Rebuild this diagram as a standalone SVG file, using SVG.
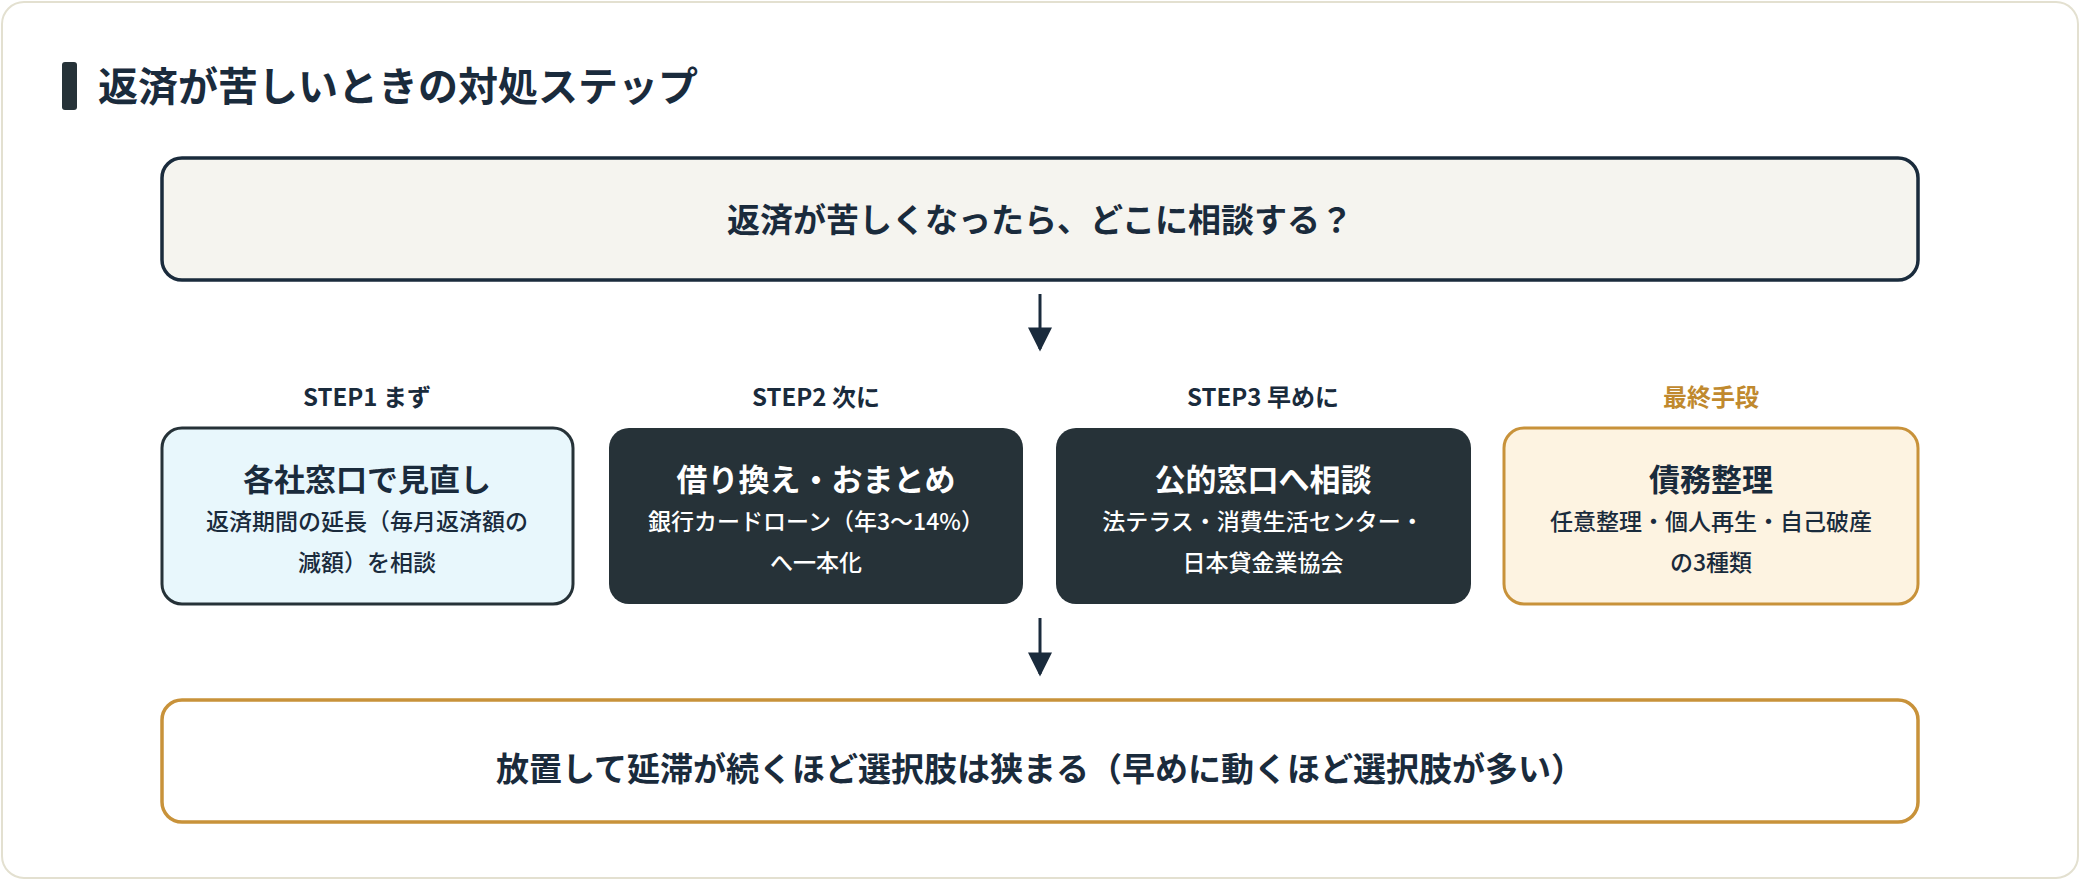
<svg xmlns="http://www.w3.org/2000/svg" width="2080" height="880" viewBox="0 0 2080 880">
<style>
text{font-family:"Noto Sans CJK JP","Noto Sans",sans-serif;text-anchor:middle;font-weight:700}
.lbl{font-size:24px;fill:#1a2b3c}
.ttl{font-size:31px}
.sub{font-size:23px;font-weight:500}
.dk{fill:#ffffff}
.lt{fill:#1a2b3c}
</style>
<defs>
<marker id="ah" viewBox="0 0 10 10" refX="9" refY="5" markerWidth="28" markerHeight="24" markerUnits="userSpaceOnUse" orient="auto"><path d="M0,0 L10,5 L0,10 z" fill="#1a2b3c"/></marker>
</defs>
<rect x="2" y="2" width="2076" height="876" rx="22" fill="#ffffff" stroke="#e3e0d0" stroke-width="2"/>
<rect x="62" y="62" width="15" height="48" rx="3" fill="#263238"/>
<text x="98" y="101" style="text-anchor:start;font-size:40px;fill:#1a2b3c">返済が苦しいときの対処ステップ</text>
<g id="connectors" stroke="#1a2b3c" stroke-width="3">
<line x1="1040" y1="294" x2="1040" y2="349" marker-end="url(#ah)"/>
<line x1="1040" y1="618" x2="1040" y2="674" marker-end="url(#ah)"/>
</g>
<g id="question">
<rect x="162" y="158" width="1756" height="122" rx="20" fill="#f5f4ef" stroke="#1a2b3c" stroke-width="3.5"/>
<text x="1040" y="232" class="lt" style="font-size:33px">返済が苦しくなったら、どこに相談する？</text>
</g>
<g id="step1">
<text x="367" y="406" class="lbl">STEP1 まず</text>
<rect x="162" y="428" width="411" height="176" rx="20" fill="#e8f7fc" stroke="#263238" stroke-width="3"/>
<text x="367" y="491" class="ttl lt">各社窓口で見直し</text>
<text x="367" y="530" class="sub lt">返済期間の延長（毎月返済額の</text>
<text x="367" y="571" class="sub lt">減額）を相談</text>
</g>
<g id="step2">
<text x="816" y="406" class="lbl">STEP2 次に</text>
<rect x="609" y="428" width="414" height="176" rx="20" fill="#263238"/>
<text x="816" y="491" class="ttl dk">借り換え・おまとめ</text>
<text x="816" y="530" class="sub dk">銀行カードローン（年3〜14%）</text>
<text x="816" y="571" class="sub dk">へ一本化</text>
</g>
<g id="step3">
<text x="1263" y="406" class="lbl">STEP3 早めに</text>
<rect x="1056" y="428" width="415" height="176" rx="20" fill="#263238"/>
<text x="1263" y="491" class="ttl dk">公的窓口へ相談</text>
<text x="1263" y="530" class="sub dk">法テラス・消費生活センター・</text>
<text x="1263" y="571" class="sub dk">日本貸金業協会</text>
</g>
<g id="step4">
<text x="1711" y="406" class="lbl" style="fill:#c0892e">最終手段</text>
<rect x="1504" y="428" width="414" height="176" rx="20" fill="#fdf3e1" stroke="#c8923a" stroke-width="3"/>
<text x="1711" y="491" class="ttl lt">債務整理</text>
<text x="1711" y="530" class="sub lt">任意整理・個人再生・自己破産</text>
<text x="1711" y="571" class="sub lt">の3種類</text>
</g>
<g id="conclusion">
<rect x="162" y="700" width="1756" height="122" rx="20" fill="#ffffff" stroke="#c8923a" stroke-width="3.5"/>
<text x="1040" y="781" class="lt" style="font-size:33px">放置して延滞が続くほど選択肢は狭まる（早めに動くほど選択肢が多い）</text>
</g>
</svg>
